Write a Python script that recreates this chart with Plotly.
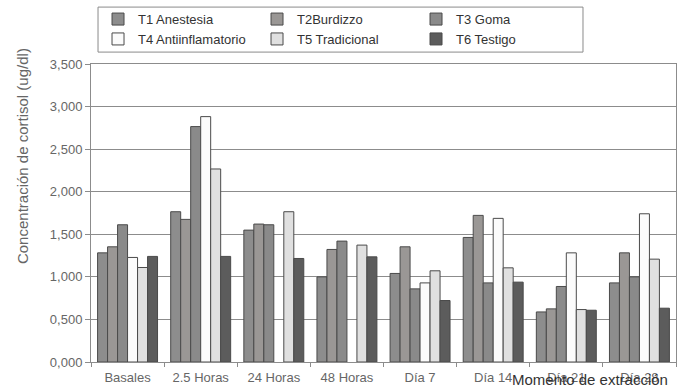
import plotly.graph_objects as go

# Sampling moments (x categories)
momentos = ["Basales", "2.5 Horas", "24 Horas", "48 Horas",
            "Día 7", "Día 14", "Día 21", "Día 28"]

# Cortisol concentration (ug/dl) per treatment; None = no sample
t1_anestesia = [1.282, 1.765, 1.549, 1.000, 1.040, 1.463, 0.588, 0.929]
t2_burdizzo = [1.353, 1.675, 1.620, 1.322, 1.353, 1.722, 0.624, 1.282]
t3_goma = [1.612, 2.765, 1.612, 1.420, 0.859, 0.929, 0.887, 1.000]
t4_antiinflamatorio = [1.228, 2.882, None, None, 0.929, 1.687, 1.282, 1.741]
t5_tradicional = [1.110, 2.267, 1.765, 1.373, 1.071, 1.106, 0.616, 1.208]
t6_testigo = [1.240, 1.240, 1.216, 1.235, 0.722, 0.938, 0.608, 0.632]

series = [
    ("T1 Anestesia", t1_anestesia, "#8d8d8d"),
    ("T2Burdizzo", t2_burdizzo, "#9a9795"),
    ("T3 Goma", t3_goma, "#8a8a8a"),
    ("T4 Antiinflamatorio", t4_antiinflamatorio, "#fbfbfb"),
    ("T5 Tradicional", t5_tradicional, "#e0e0e0"),
    ("T6 Testigo", t6_testigo, "#5c5c5c"),
]

FONT = "Liberation Sans, Arial, sans-serif"

fig = go.Figure()
for name, vals, color in series:
    fig.add_trace(go.Bar(
        x=momentos, y=vals, name=name,
        marker=dict(color=color, line=dict(color="#4a4a4a", width=1)),
    ))

fig.update_layout(
    width=677, height=392,
    margin=dict(l=91, r=1, t=64, b=30),
    paper_bgcolor="white", plot_bgcolor="white",
    separators=",.",
    barmode="group", bargap=0.18, bargroupgap=0,
    font=dict(family=FONT, size=13, color="#555555"),
    showlegend=True,
    legend=dict(
        orientation="h",
        x=0.012, xanchor="left",
        y=1.201, yanchor="top",
        entrywidth=114, entrywidthmode="pixels",
        borderwidth=0,
        bgcolor="rgba(0,0,0,0)",
        font=dict(family=FONT, size=13, color="#333333"),
        traceorder="normal",
        tracegroupgap=0,
    ),
)

# Frame around the legend block
fig.add_shape(
    type="rect", xref="paper", yref="paper",
    x0=0.012, x1=0.841, y0=1.040, y1=1.191,
    line=dict(color="#8a8a8a", width=1), fillcolor="rgba(0,0,0,0)",
    layer="above",
)

fig.update_yaxes(
    range=[0, 3.5], dtick=0.5, tickformat=".3f",
    showgrid=True, gridcolor="#8c8c8c", gridwidth=1,
    showline=True, linecolor="#8c8c8c", linewidth=1, mirror=True,
    ticks="outside", ticklen=5, tickcolor="#8c8c8c",
    tickfont=dict(size=13, color="#666666"),
    zeroline=False,
)
fig.update_xaxes(
    showline=True, linecolor="#8c8c8c", linewidth=1, mirror=True,
    ticks="outside", ticklen=4, tickcolor="#8c8c8c",
    tickson="boundaries",
    tickfont=dict(size=13, color="#666666"),
    ticklabelstandoff=3,
)

# Axis titles placed as free text
fig.add_annotation(
    text="Concentración de cortisol (ug/dl)", textangle=-90,
    xref="paper", yref="paper", x=-0.118, y=0.691,
    xanchor="center", yanchor="middle", showarrow=False,
    font=dict(family=FONT, size=15, color="#666666"),
)
fig.add_annotation(
    text="Momento de extracción",
    xref="paper", yref="paper", x=0.99, y=-0.06,
    xanchor="right", yanchor="middle", showarrow=False,
    font=dict(family=FONT, size=15, color="#333333"),
)

fig.write_html("out.html")
